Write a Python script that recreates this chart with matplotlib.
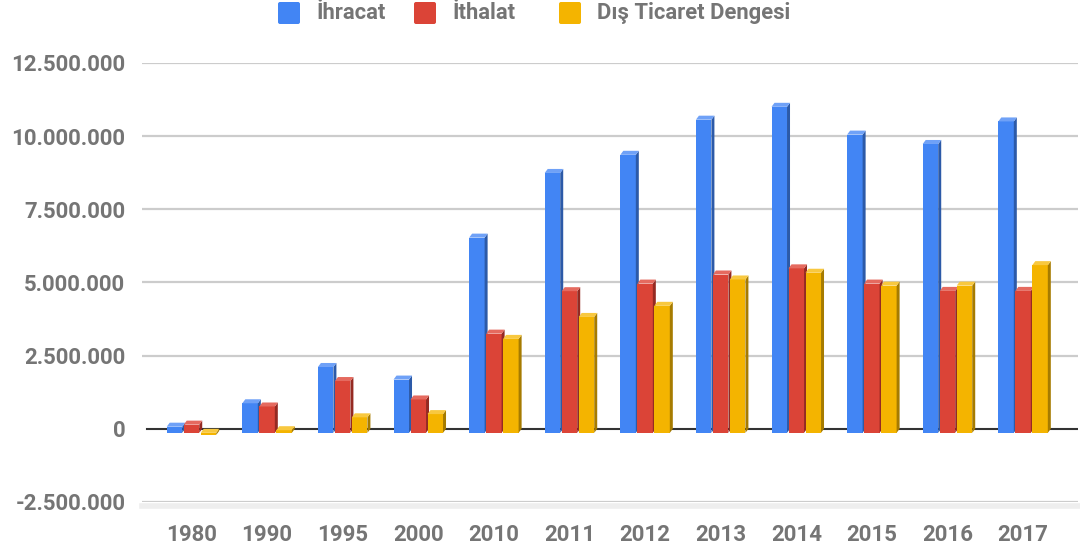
import matplotlib.pyplot as plt
from matplotlib.patches import Polygon, FancyBboxPatch
from matplotlib.ticker import FuncFormatter
from matplotlib.transforms import IdentityTransform

plt.rcParams['font.family'] = ['Roboto', 'DejaVu Sans']
plt.rcParams['font.weight'] = 'bold'

# data
years = ["1980", "1990", "1995", "2000", "2010", "2011",
         "2012", "2013", "2014", "2015", "2016", "2017"]
ihracat = [210000, 1010000, 2250000, 1820000, 6670000, 8880000,
           9500000, 10700000, 11140000, 10190000, 9870000, 10640000]
ithalat = [280000, 900000, 1770000, 1140000, 3390000, 4840000,
           5100000, 5410000, 5620000, 5100000, 4850000, 4850000]
denge = [-70000, 90000, 530000, 640000, 3210000, 3960000,
         4340000, 5240000, 5470000, 5030000, 5030000, 5730000]

series = [ihracat, ithalat, denge]
labels = ["İhracat", "İthalat", "Dış Ticaret Dengesi"]
# front, side, top colours
faces = [
    ("#4285F4", "#2C5AA8", "#6FA1F7"),
    ("#DB4437", "#952A22", "#E56A5F"),
    ("#F4B400", "#A67B00", "#F8C83F"),
]
text_gray = "#757575"

W, H = 1080, 551
fig = plt.figure(figsize=(W / 100, H / 100), dpi=100)
ax_l, ax_r, ax_t, ax_b = 142, 1078, 63, 502
ax = fig.add_axes([ax_l / W, (H - ax_b) / H, (ax_r - ax_l) / W, (ax_b - ax_t) / H])

xmin, xmax = -0.694, 11.687
ymin, ymax = -2500000, 12500000
ax.set_xlim(xmin, xmax)
ax.set_ylim(ymin, ymax)

# pixel -> data conversion for the fake 3D depth
px_x = (ax_r - ax_l) / (xmax - xmin)
px_y = (ax_b - ax_t) / (ymax - ymin)
ddx = 3 / px_x
ddy = 4 / px_y

bar_w = 15.5 / px_x
step = 17 / px_x

# gridlines
for t in range(-2500000, 12500001, 2500000):
    if t == 0:
        continue
    ax.axhline(t, color="#cccccc", lw=1.6, zorder=1)
ax.plot([xmin, xmax], [ymin - 3.5 / px_y] * 2, color="#eeeeee", lw=4,
        clip_on=False, zorder=0)
ax.plot([xmin + 5 / px_x, xmax], [0, 0], color="#333333", lw=1.5, zorder=2)


def draw_bar(xc, v, cols):
    front, side, top_c = cols
    xl, xr = xc - bar_w / 2, xc + bar_w / 2
    top = max(v, 0)
    bot = min(v, 0)
    # front face (shifted down-left)
    ax.add_patch(Polygon([(xl - ddx, bot - ddy), (xr - ddx, bot - ddy),
                          (xr - ddx, top - ddy), (xl - ddx, top - ddy)],
                         closed=True, facecolor=front, lw=0, zorder=3))
    # side face
    ax.add_patch(Polygon([(xr - ddx, bot - ddy), (xr - ddx, top - ddy),
                          (xr, top), (xr, bot)],
                         closed=True, facecolor=side, lw=0, zorder=3))
    # top face
    ax.add_patch(Polygon([(xl - ddx, top - ddy), (xr - ddx, top - ddy),
                          (xr, top), (xl, top)],
                         closed=True, facecolor=top_c, lw=0, zorder=3))


for i in range(len(years)):
    for k, vals in enumerate(series):
        draw_bar(i + (k - 1) * step, vals[i], faces[k])

# axes styling
for s in ax.spines.values():
    s.set_visible(False)
ax.set_yticks(range(-2500000, 12500001, 2500000))
ax.yaxis.set_major_formatter(FuncFormatter(lambda v, p: f"{int(v):,}".replace(",", ".")))
ax.set_xticks([i - ddx for i in range(len(years))])
ax.set_xticklabels(years)
ax.tick_params(length=0, labelsize=16, labelcolor=text_gray)
ax.tick_params(axis="y", pad=12)
ax.tick_params(axis="x", pad=16)

# legend at top
leg_boxes = [278, 414, 559]
for k, lab in enumerate(labels):
    x0 = leg_boxes[k]
    fig.add_artist(FancyBboxPatch((x0, H - 24), 22, 22,
                                  boxstyle="round,pad=0,rounding_size=2",
                                  facecolor=faces[k][0], lw=0,
                                  transform=IdentityTransform()))
    fig.text((x0 + 38) / W, 1 - 13 / H, lab, fontsize=15.8, color=text_gray,
             va="center", ha="left", fontweight="bold")

fig.savefig("out.png", dpi=100)
